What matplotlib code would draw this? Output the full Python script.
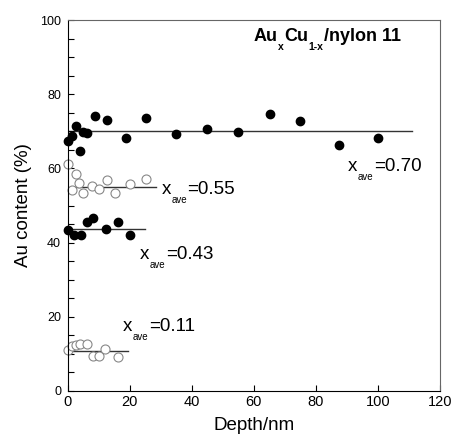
import numpy as np
import matplotlib
matplotlib.use("Agg")
import matplotlib.pyplot as plt
from matplotlib.ticker import MultipleLocator

plt.rcParams['font.family'] = ['Liberation Sans', 'DejaVu Sans']

# x_ave = 0.70 (filled)
depth_70 = [0.1, 1.4, 2.5, 3.9, 4.9, 6.3, 8.8, 12.6, 18.8, 25.1, 35.0, 45.0, 55.0, 65.2, 75.0, 87.5, 99.9]
au_70 = [67.5, 68.7, 71.4, 64.8, 69.7, 69.6, 74.0, 73.0, 68.3, 73.6, 69.4, 70.5, 69.8, 74.6, 72.9, 66.3, 68.1]
# x_ave = 0.55 (open)
depth_55 = [0.1, 1.3, 2.5, 3.6, 4.9, 7.6, 10.1, 12.7, 15.2, 20.1, 25.2]
au_55 = [61.2, 54.1, 58.4, 56.2, 53.5, 55.3, 54.5, 56.9, 53.3, 55.8, 57.1]
# x_ave = 0.43 (filled)
depth_43 = [0.1, 1.9, 4.2, 6.2, 8.1, 12.2, 16.0, 20.0]
au_43 = [43.4, 42.0, 42.0, 45.5, 46.6, 43.8, 45.6, 42.0]
# x_ave = 0.11 (open)
depth_11 = [0.0, 1.3, 2.5, 3.9, 6.0, 8.0, 10.0, 11.9, 16.0]
au_11 = [11.0, 12.0, 12.5, 12.7, 12.7, 9.3, 9.3, 11.3, 9.1]

# average lines: (level, x start, x end)
avg_lines = [(70.0, 0, 111), (55.0, 1, 28.5), (43.7, 0, 25), (10.7, 0, 19.5)]
labels = ['0.70', '0.55', '0.43', '0.11']
label_pos = [(90.4, 60.6), (30.2, 54.2), (23.2, 36.7), (17.8, 17.3)]


def sub_text(ax, x, y, parts, size, sub_size, weight='normal'):
    # parts: list of (string, is_subscript); chained left to right
    first = ax.text(x, y, parts[0][0], fontsize=size, fontweight=weight,
                    va='center', ha='left')
    prev = first
    for s, is_sub in parts[1:]:
        if is_sub:
            t = ax.annotate(s, xy=(1, 0), xycoords=(prev, first),
                            xytext=(0.3, 2.2), textcoords='offset points',
                            fontsize=sub_size, fontweight=weight,
                            va='top', ha='left')
        else:
            t = ax.annotate(s, xy=(1, 0), xycoords=(prev, first),
                            xytext=(0.3, 0), textcoords='offset points',
                            fontsize=size, fontweight=weight,
                            va='bottom', ha='left')
        prev = t
    return first


fig = plt.figure(figsize=(4.53, 4.41), dpi=100)
ax = fig.add_axes([0.150, 0.1134, 0.821, 0.8412])

for lvl, x0, x1 in avg_lines:
    ax.plot([x0, x1], [lvl, lvl], color='#333333', lw=1.0, zorder=1)

ax.plot(depth_70, au_70, 'o', color='black', ms=6, clip_on=False, zorder=3)
ax.plot(depth_43, au_43, 'o', color='black', ms=6, clip_on=False, zorder=3)
ax.plot(depth_55, au_55, 'o', mfc='white', mec='#888888', mew=0.8, ms=6.5, clip_on=False, zorder=2)
ax.plot(depth_11, au_11, 'o', mfc='white', mec='#888888', mew=0.8, ms=6.5, clip_on=False, zorder=2)

for lab, (tx, ty) in zip(labels, label_pos):
    sub_text(ax, tx, ty, [('x', False), ('ave', True), ('=' + lab, False)], 13.5, 7)

sub_text(ax, 59.8, 95.5, [('Au', False), ('x', True), ('Cu', False), ('1-x', True),
                          ('/nylon 11', False)], 13, 7.5, weight='bold')

ax.set_xlim(0, 120)
ax.set_ylim(0, 100)
ax.xaxis.set_major_locator(MultipleLocator(20))
ax.yaxis.set_major_locator(MultipleLocator(20))
ax.yaxis.set_minor_locator(MultipleLocator(5))
ax.tick_params(which='both', direction='in', length=4, width=0.8)
ax.tick_params(axis='x', labelsize=10.5, pad=3)
ax.tick_params(axis='y', labelsize=9, pad=5)

for side in ['left', 'bottom']:
    ax.spines[side].set_color('black')
for side in ['top', 'right']:
    ax.spines[side].set_color('#666666')

ax.set_xlabel('Depth/nm', fontsize=13.5, labelpad=6)
ax.set_ylabel('Au content (%)', fontsize=13.5, labelpad=6)

fig.savefig('out.png', dpi=100)
